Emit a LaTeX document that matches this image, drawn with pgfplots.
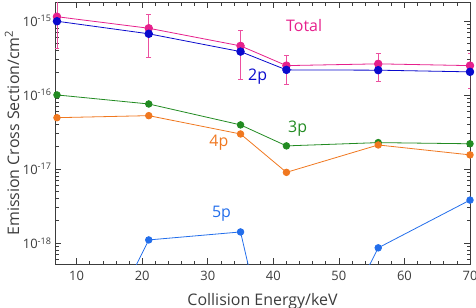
\documentclass[border=0pt]{standalone}
\usepackage{fontspec}
\setmainfont{Open Sans}
\usepackage{pgfplots}
\usepackage{pgfplotstable}
\pgfplotsset{compat=1.18}

\definecolor{cTotal}{RGB}{230,32,140}
\definecolor{cErr}{RGB}{236,80,160}
\definecolor{cTwo}{RGB}{10,10,205}
\definecolor{cThree}{RGB}{34,139,34}
\definecolor{cFour}{RGB}{240,120,32}
\definecolor{cFive}{RGB}{35,110,235}
\definecolor{cAxis}{RGB}{60,60,60}

% energy (keV), cross section (cm^2), upper and lower error
\pgfplotstableread{
x    y        ep       em
7    1.14e-15 1.10e-15 7.10e-16
21   7.96e-16 4.40e-16 4.70e-16
35   4.60e-16 2.80e-16 2.96e-16
42   2.49e-16 0.91e-16 1.08e-16
56   2.63e-16 1.03e-16 1.12e-16
70   2.49e-16 1.17e-16 1.245e-16
}\total

\pgfplotstableread{
x    y
7    0.99e-15
21   6.70e-16
35   3.85e-16
42   2.18e-16
56   2.16e-16
70   2.05e-16
}\twop

\pgfplotstableread{
x    y
7    1.00e-16
21   7.55e-17
35   3.94e-17
42   2.05e-17
56   2.27e-17
70   2.19e-17
}\threep

\pgfplotstableread{
x    y
7    4.93e-17
21   5.25e-17
35   2.97e-17
42   9.00e-18
56   2.11e-17
70   1.55e-17
}\fourp

\pgfplotstableread{
x    y
7    3.5e-21
21   1.10e-18
35   1.41e-18
42   3.0e-21
56   8.60e-19
70   3.80e-18
}\fivep

\begin{document}
\begin{tikzpicture}
\path[use as bounding box] (0,0) rectangle (476bp,308bp);
\begin{axis}[
  at={(55bp,44bp)}, anchor=south west,
  scale only axis, width=415bp, height=262bp,
  ymode=log,
  xmin=6.7, xmax=70, ymin=5.2e-19, ymax=1.8e-15,
  xtick={10,20,...,70}, minor x tick num=4,
  ytick={1e-18,1e-17,1e-16,1e-15},
  yticklabels={10\textsuperscript{-18},10\textsuperscript{-17},10\textsuperscript{-16},10\textsuperscript{-15}},
  minor ytick={6e-19,7e-19,8e-19,9e-19,
    2e-18,3e-18,4e-18,5e-18,6e-18,7e-18,8e-18,9e-18,
    2e-17,3e-17,4e-17,5e-17,6e-17,7e-17,8e-17,9e-17,
    2e-16,3e-16,4e-16,5e-16,6e-16,7e-16,8e-16,9e-16},
  tick align=inside,
  major tick length=6bp, minor tick length=3.5bp,
  tick style={color=cAxis, line width=0.6bp},
  axis line style={cAxis, line width=0.8bp},
  /pgf/number format/assume math mode=true,
  ticklabel style={font=\fontsize{13}{15}\selectfont, color=cAxis},
  xticklabel style={yshift=-4bp},
  xlabel={Collision Energy/keV},
  ylabel={Emission Cross Section/cm\textsuperscript{2}},
  every axis x label/.style={at={(rel axis cs:0.5,0)}, yshift=-37bp, anchor=center,
    font=\fontsize{16}{18}\selectfont, color=cAxis},
  every axis y label/.style={at={(rel axis cs:0,0.5)}, xshift=-43bp, rotate=90, anchor=center,
    font=\fontsize{16}{18}\selectfont, color=cAxis},
  every axis plot/.append style={line width=0.8bp},
]
\addplot[cTotal, mark=*, mark size=3.8bp,
  error bars/.cd, y dir=both, y explicit,
  error bar style={cErr, line width=0.7bp},
  error mark options={rotate=90, mark size=2.5bp, cErr, line width=0.7bp}]
  table[x=x, y=y, y error plus=ep, y error minus=em] {\total};
\addplot[cTwo, mark=*, mark size=3.8bp] table[x=x, y=y] {\twop};
\addplot[cThree, mark=*, mark size=3.3bp] table[x=x, y=y] {\threep};
\addplot[cFour, mark=*, mark size=3.3bp] table[x=x, y=y] {\fourp};
\addplot[cFive, mark=*, mark size=3.3bp] table[x=x, y=y] {\fivep};

\node[cTotal, font=\fontsize{16}{18}\selectfont] at (axis cs:44.7,8.55e-16) {Total};
\node[cTwo, font=\fontsize{16}{18}\selectfont] at (axis cs:37.6,1.75e-16) {2p};
\node[cThree, font=\fontsize{16}{18}\selectfont] at (axis cs:43.7,3.47e-17) {3p};
\node[cFour, font=\fontsize{16}{18}\selectfont] at (axis cs:31.7,2.27e-17) {4p};
\node[cFive, font=\fontsize{16}{18}\selectfont] at (axis cs:32.1,2.47e-18) {5p};
\end{axis}
\end{tikzpicture}
\end{document}
